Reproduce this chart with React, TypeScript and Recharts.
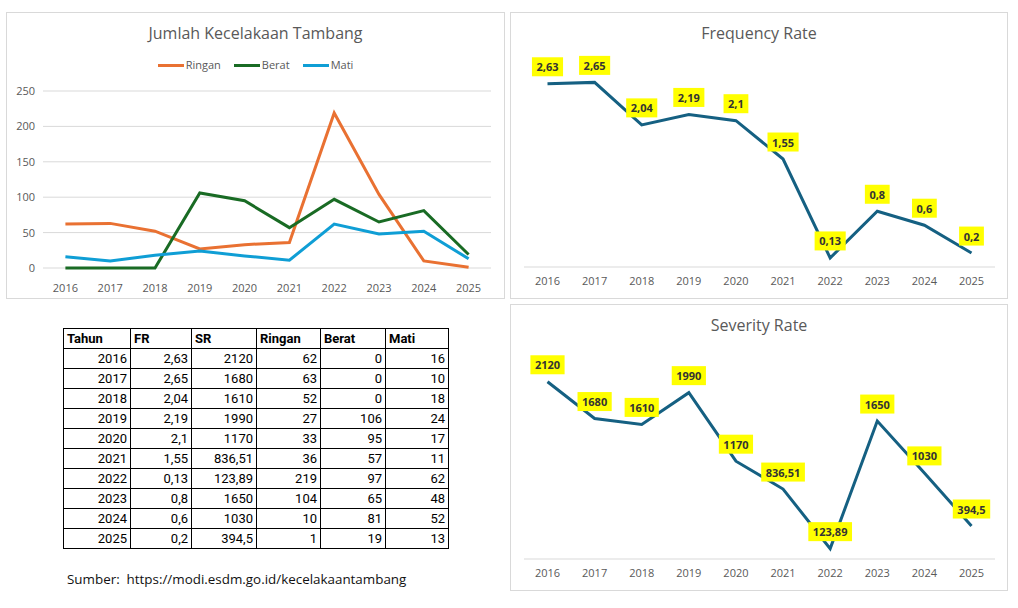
import React from "react";
import { LineChart, Line, XAxis, YAxis, CartesianGrid, LabelList } from "recharts";

const years = ["2016", "2017", "2018", "2019", "2020", "2021", "2022", "2023", "2024", "2025"];
const frValues = [2.63, 2.65, 2.04, 2.19, 2.1, 1.55, 0.13, 0.8, 0.6, 0.2];
const srValues = [2120, 1680, 1610, 1990, 1170, 836.51, 123.89, 1650, 1030, 394.5];
const ringan = [62, 63, 52, 27, 33, 36, 219, 104, 10, 1];
const berat = [0, 0, 0, 106, 95, 57, 97, 65, 81, 19];
const mati = [16, 10, 18, 24, 17, 11, 62, 48, 52, 13];

const countTicks = [0, 50, 100, 150, 200, 250];
const seriesNames = ["Ringan", "Berat", "Mati"];
const seriesColors = ["#E97132", "#196B24", "#0F9ED5"];
const tableHeaders = ["Tahun", "FR", "SR", "Ringan", "Berat", "Mati"];
const tableWidths = [67, 61, 65, 64, 65, 63];

const FONT = "'Open Sans', 'Noto Sans', sans-serif";
const GRID = "#D9D9D9";
const TEXT = "#595959";
const RATE_LINE = "#156082";

const rows = years.map((year, i) => ({
  year,
  fr: frValues[i],
  sr: srValues[i],
  Ringan: ringan[i],
  Berat: berat[i],
  Mati: mati[i],
}));

const fmt = (v: number) => String(v).replace(".", ",");

// yellow callout like the excel data labels
function YellowLabel(props: any) {
  const { x, y, value } = props;
  const text = fmt(value);
  const digits = text.replace(",", "").length;
  const w = digits * 6.3 + (text.includes(",") ? 3.2 : 0) + 9;
  const h = 19;
  const cy = y - 17;
  return (
    <g>
      <rect x={x - w / 2} y={cy - h / 2} width={w} height={h} fill="#FFFF00" />
      <text
        x={x}
        y={cy}
        textAnchor="middle"
        dominantBaseline="central"
        fontSize={11}
        fontWeight="bold"
        fill="#333333"
      >
        {text}
      </text>
    </g>
  );
}

const boxStyle = (left: number, top: number, width: number, height: number): React.CSSProperties => ({
  position: "absolute",
  left,
  top,
  width,
  height,
  border: `1px solid ${GRID}`,
  boxSizing: "border-box",
  background: "#fff",
});

const titleStyle: React.CSSProperties = {
  position: "absolute",
  left: 0,
  right: 0,
  top: 10,
  textAlign: "center",
  fontSize: 16,
  lineHeight: "21px",
  color: TEXT,
  zIndex: 1,
};

function RateChart({ title, dataKey, domain, top }: { title: string; dataKey: string; domain: number[]; top: number }) {
  return (
    <div style={boxStyle(510, top, 498, 287)}>
      <div style={titleStyle}>{title}</div>
      <LineChart width={496} height={285} data={rows} margin={{ top: 45, right: 12, bottom: 7, left: 13 }}>
        <XAxis
          dataKey="year"
          height={24}
          padding={{ left: 23.5, right: 23.5 }}
          axisLine={{ stroke: GRID }}
          tickLine={false}
          tickMargin={4}
          tick={{ fontSize: 11, fill: TEXT }}
        />
        <YAxis hide domain={domain} />
        <Line
          type="linear"
          dataKey={dataKey}
          stroke={RATE_LINE}
          strokeWidth={3}
          dot={false}
          isAnimationActive={false}
        >
          <LabelList dataKey={dataKey} content={<YellowLabel />} />
        </Line>
      </LineChart>
    </div>
  );
}

export default function App() {
  return (
    <div
      style={{
        position: "absolute",
        left: 0,
        top: 0,
        width: 1018,
        height: 608,
        background: "#fff",
        fontFamily: FONT,
      }}
    >
      {/* jumlah kecelakaan */}
      <div style={boxStyle(6, 12, 499, 287)}>
        <div style={titleStyle}>Jumlah Kecelakaan Tambang</div>
        <div
          style={{
            position: "absolute",
            left: 0,
            right: 0,
            top: 45,
            display: "flex",
            justifyContent: "center",
            gap: 13,
            fontSize: 11,
            color: TEXT,
            lineHeight: "14px",
          }}
        >
          {seriesNames.map((name, i) => (
            <div key={name} style={{ display: "flex", alignItems: "center", gap: 2 }}>
              <span style={{ display: "inline-block", width: 26, height: 3, background: seriesColors[i] }} />
              <span>{name}</span>
            </div>
          ))}
        </div>
        <LineChart width={497} height={285} data={rows} margin={{ top: 78, right: 13, bottom: 0, left: 0 }}>
          <CartesianGrid vertical={false} stroke={GRID} />
          <XAxis
            dataKey="year"
            height={30}
            padding={{ left: 22.4, right: 22.4 }}
            axisLine={false}
            tickLine={false}
            tickMargin={10}
            tick={{ fontSize: 11, fill: TEXT }}
          />
          <YAxis
            width={36}
            domain={[0, 250]}
            ticks={countTicks}
            axisLine={false}
            tickLine={false}
            tick={{ fontSize: 11, fill: TEXT }}
          />
          {seriesNames.map((k, i) => (
            <Line
              key={k}
              type="linear"
              dataKey={k}
              stroke={seriesColors[i]}
              strokeWidth={3}
              dot={false}
              isAnimationActive={false}
            />
          ))}
        </LineChart>
      </div>

      <RateChart title="Frequency Rate" dataKey="fr" domain={[0, 3]} top={12} />
      <RateChart title="Severity Rate" dataKey="sr" domain={[0, 2500]} top={304} />

      {/* tabel data */}
      <table
        style={{
          position: "absolute",
          left: 63,
          top: 328,
          borderCollapse: "collapse",
          fontFamily: "'Roboto', sans-serif",
          fontSize: 13,
          color: "#000",
          tableLayout: "fixed",
        }}
      >
        <colgroup>
          {tableWidths.map((w, i) => (
            <col key={i} style={{ width: w }} />
          ))}
        </colgroup>
        <thead>
          <tr>
            {tableHeaders.map((h) => (
              <th
                key={h}
                style={{
                  border: "1px solid #000",
                  height: 19,
                  padding: "0 3px",
                  textAlign: "left",
                  fontWeight: "bold",
                }}
              >
                {h}
              </th>
            ))}
          </tr>
        </thead>
        <tbody>
          {rows.map((r) => (
            <tr key={r.year}>
              {[r.year, fmt(r.fr), fmt(r.sr), r.Ringan, r.Berat, r.Mati].map((v, j) => (
                <td
                  key={j}
                  style={{ border: "1px solid #000", height: 19, padding: "0 3px", textAlign: "right" }}
                >
                  {v}
                </td>
              ))}
            </tr>
          ))}
        </tbody>
      </table>

      <div style={{ position: "absolute", left: 67, top: 570, fontSize: 13.4, color: "#111" }}>
        Sumber:&nbsp; https://modi.esdm.go.id/kecelakaantambang
      </div>
    </div>
  );
}
